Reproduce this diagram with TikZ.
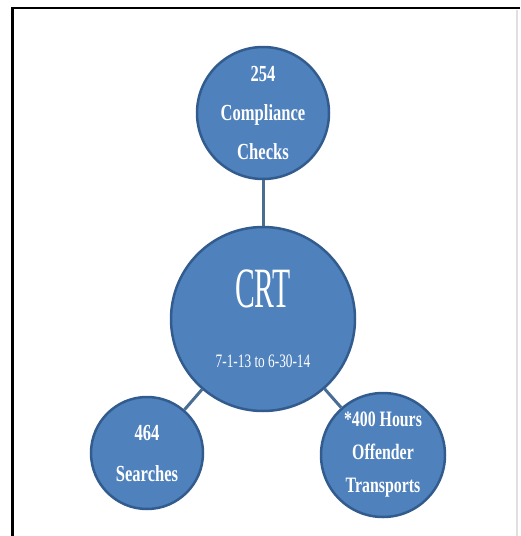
\documentclass[tikz,border=0pt]{standalone}
\usepackage{fontspec}
\newfontfamily\bubblefont[FakeStretch=0.72]{Liberation Serif}
\newfontfamily\titlefont[FakeStretch=0.52]{Liberation Serif}
\newfontfamily\datefont[FakeStretch=0.7]{Liberation Serif}
\definecolor{bubblefill}{HTML}{4F81BD}
\definecolor{bubbleline}{HTML}{335C8E}
\definecolor{linkcol}{HTML}{4A6D94}
\begin{document}
\begin{tikzpicture}[x=1pt, y=-1pt,
	bubble/.style = {circle, draw = bubbleline, line width = 2.5pt, fill = bubblefill,
		text = white, align = center, inner sep = 0pt},
	link/.style = {draw = linkcol, line width = 3pt}]
	
	\useasboundingbox (0,0) rectangle (520,536);
	
	% Frame
	\draw [black, line width = 2.5pt] (12.5,536) -- (12.5,8) -- (520,8);
	\draw [black!12, line width = 2pt] (517,10) -- (517,536);
	
	% Bubbles
	\node [bubble, minimum size = 184pt, font = \titlefont\fontsize{57}{60}\selectfont] (crt) at (263,319)
	{CRT\\[0pt]{\datefont\fontsize{19}{20}\selectfont 7-1-13 to 6-30-14}};
	
	\node [bubble, minimum size = 132pt, font = \bubblefont\bfseries\fontsize{23}{39}\selectfont] (compliance) at (263,113)
	{254\\Compliance\\Checks};
	
	\node [bubble, minimum size = 112pt, font = \bubblefont\bfseries\fontsize{23}{41}\selectfont] (searches) at (147,453)
	{464\\Searches};
	
	\node [bubble, minimum size = 124pt, font = \bubblefont\bfseries\fontsize{22}{33}\selectfont] (transports) at (383,455)
	{*400 Hours\\Offender\\Transports};
	
	% Links
	\draw [link] (compliance) -- (crt);
	\draw [link] (searches)   -- (crt);
	\draw [link] (transports) -- (crt);
	
\end{tikzpicture}
\end{document}
